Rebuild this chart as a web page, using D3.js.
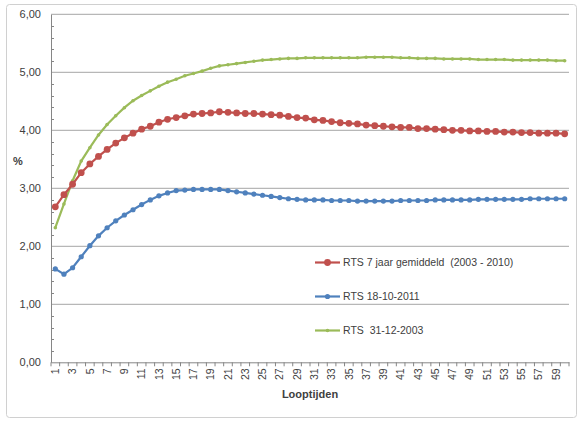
<!DOCTYPE html>
<html>
<head>
<meta charset="utf-8">
<script src="https://cdn.jsdelivr.net/npm/d3@7"></script>
<style>
  body { margin: 0; background: #fff; }
  text { font-family: "Liberation Sans", Arial, sans-serif; fill: #404040; white-space: pre; }
</style>
</head>
<body>
<svg id="chart" width="584" height="424"></svg>
<script>
// looptijden 1..60
var categories = [1,2,3,4,5,6,7,8,9,10,11,12,13,14,15,16,17,18,19,20,
  21,22,23,24,25,26,27,28,29,30,31,32,33,34,35,36,37,38,39,40,
  41,42,43,44,45,46,47,48,49,50,51,52,53,54,55,56,57,58,59,60];

// RTS 7 jaar gemiddeld (2003 - 2010)
var avgSeries = [2.68,2.89,3.07,3.27,3.42,3.55,3.67,3.78,3.87,3.95,
  4.02,4.07,4.14,4.19,4.22,4.25,4.28,4.29,4.30,4.32,
  4.31,4.30,4.29,4.29,4.28,4.27,4.26,4.24,4.22,4.21,
  4.18,4.17,4.15,4.13,4.12,4.11,4.09,4.08,4.07,4.06,
  4.05,4.05,4.03,4.03,4.02,4.01,4.00,4.00,3.99,3.99,
  3.98,3.98,3.97,3.97,3.96,3.96,3.95,3.95,3.95,3.94];

// RTS 18-10-2011
var rts2011 = [1.61,1.52,1.63,1.82,2.01,2.18,2.32,2.44,2.54,2.63,
  2.72,2.80,2.87,2.92,2.96,2.97,2.98,2.98,2.98,2.98,
  2.96,2.94,2.92,2.90,2.88,2.86,2.84,2.82,2.81,2.80,
  2.80,2.80,2.79,2.79,2.79,2.78,2.78,2.78,2.78,2.78,
  2.79,2.79,2.79,2.79,2.80,2.80,2.80,2.80,2.80,2.81,
  2.81,2.81,2.81,2.81,2.81,2.82,2.82,2.82,2.82,2.82];

// RTS 31-12-2003
var rts2003 = [2.32,2.73,3.13,3.47,3.70,3.92,4.10,4.25,4.39,4.51,
  4.60,4.68,4.76,4.83,4.88,4.94,4.98,5.02,5.07,5.11,
  5.13,5.15,5.17,5.19,5.21,5.22,5.23,5.24,5.24,5.25,
  5.25,5.25,5.25,5.25,5.25,5.25,5.26,5.26,5.26,5.26,
  5.25,5.25,5.24,5.24,5.24,5.23,5.23,5.23,5.23,5.22,
  5.22,5.22,5.22,5.21,5.21,5.21,5.21,5.21,5.20,5.20];

var yTicks = [0,1,2,3,4,5,6];
var xTickLabels = [1,3,5,7,9,11,13,15,17,19,21,23,25,27,29,31,33,35,37,39,
  41,43,45,47,49,51,53,55,57,59];

var seriesNames = ["RTS 7 jaar gemiddeld  (2003 - 2010)", "RTS 18-10-2011", "RTS  31-12-2003"];

var svg = d3.select("#chart");

// outer chart border
svg.append("rect")
  .attr("x", 6.5).attr("y", 4.5)
  .attr("width", 570).attr("height", 413)
  .attr("rx", 3)
  .attr("fill", "#fff")
  .attr("stroke", "#d0d0d0");

var plot = { left: 51, right: 569, top: 14.3, bottom: 362.3 };

var x = d3.scaleBand()
  .domain(categories)
  .range([plot.left, plot.right]);

var y = d3.scaleLinear()
  .domain([0, 6])
  .range([plot.bottom, plot.top]);

// horizontal gridlines
svg.append("g").selectAll("line")
  .data(yTicks.slice(1))
  .enter().append("line")
  .attr("x1", plot.left).attr("x2", plot.right)
  .attr("y1", function (d) { return y(d); })
  .attr("y2", function (d) { return y(d); })
  .attr("stroke", "#a6a6a6")
  .attr("stroke-width", 1);

// y axis
var yAxis = d3.axisLeft(y)
  .tickValues(yTicks)
  .tickSize(0)
  .tickPadding(10)
  .tickFormat(function (d) { return d3.format(".2f")(d).replace(".", ","); });

var gy = svg.append("g")
  .attr("transform", "translate(" + plot.left + ",0)")
  .call(yAxis);
gy.select(".domain").attr("stroke", "#868686");
gy.selectAll("text")
  .style("font-size", "11px")
  .attr("fill", "#404040");

// minor ticks on the y axis (every 0,2)
var minor = y.ticks(30).filter(function (d) { return Math.round(d * 10) % 10 !== 0; });
svg.append("g").selectAll("line")
  .data(minor)
  .enter().append("line")
  .attr("x1", plot.left).attr("x2", plot.left + 3)
  .attr("y1", function (d) { return Math.round(y(d)) + 0.5; })
  .attr("y2", function (d) { return Math.round(y(d)) + 0.5; })
  .attr("stroke", "#868686");

// x axis
var xAxis = d3.axisBottom(x)
  .tickValues(xTickLabels)
  .tickSize(0)
  .tickPadding(6);

var gx = svg.append("g")
  .attr("transform", "translate(0," + plot.bottom + ")")
  .call(xAxis);
gx.select(".domain").attr("stroke", "#868686");
gx.selectAll("text")
  .style("font-size", "10.5px")
  .attr("fill", "#404040")
  .attr("transform", "rotate(-90)")
  .attr("text-anchor", "end")
  .attr("x", -6)
  .attr("y", 0)
  .attr("dy", "0.35em");

// category boundary ticks under the x axis
svg.append("g").selectAll("line")
  .data(categories.concat(["end"]))
  .enter().append("line")
  .attr("x1", function (d, i) { return plot.left + i * x.step(); })
  .attr("x2", function (d, i) { return plot.left + i * x.step(); })
  .attr("y1", plot.bottom).attr("y2", plot.bottom + 4)
  .attr("stroke", "#868686");

// axis titles
svg.append("text")
  .attr("x", 310).attr("y", 398)
  .attr("text-anchor", "middle")
  .style("font-size", "11px")
  .style("font-weight", "bold")
  .attr("fill", "#000")
  .text("Looptijden");

svg.append("text")
  .attr("x", 18).attr("y", 165)
  .attr("text-anchor", "middle")
  .style("font-size", "11px")
  .style("font-weight", "bold")
  .attr("fill", "#000")
  .text("%");

// series lines
var series = [
  { name: seriesNames[0], values: avgSeries, color: "#C0504D", r: 3.4 },
  { name: seriesNames[1], values: rts2011, color: "#4F81BD", r: 2.6 },
  { name: seriesNames[2], values: rts2003, color: "#9BBB59", r: 1.8 }
];

var cx = function (i) { return x(categories[i]) + x.bandwidth() / 2; };

var line = d3.line()
  .x(function (d, i) { return cx(i); })
  .y(function (d) { return y(d); });

// draw back-to-front: green, blue, red on top
[2, 1, 0].forEach(function (k) {
  var s = series[k];
  var g = svg.append("g");
  g.append("path")
    .datum(s.values)
    .attr("d", line)
    .attr("fill", "none")
    .attr("stroke", s.color)
    .attr("stroke-width", 2.2);
  g.selectAll("circle")
    .data(s.values)
    .enter().append("circle")
    .attr("cx", function (d, i) { return cx(i); })
    .attr("cy", function (d) { return y(d); })
    .attr("r", s.r)
    .attr("fill", s.color);
});

// legend
var legendY = [262.5, 296.5, 330.5];
var legend = svg.append("g").selectAll("g")
  .data(series)
  .enter().append("g")
  .attr("transform", function (d, i) { return "translate(315," + legendY[i] + ")"; });

legend.append("line")
  .attr("x1", 0).attr("x2", 25)
  .attr("stroke", function (d) { return d.color; })
  .attr("stroke-width", 2.2);
legend.append("circle")
  .attr("cx", 12.5)
  .attr("r", function (d) { return d.r; })
  .attr("fill", function (d) { return d.color; });
legend.append("text")
  .attr("x", 28)
  .attr("dy", "0.35em")
  .style("font-size", "10.5px")
  .attr("fill", "#404040")
  .text(function (d) { return d.name; });
</script>
</body>
</html>
